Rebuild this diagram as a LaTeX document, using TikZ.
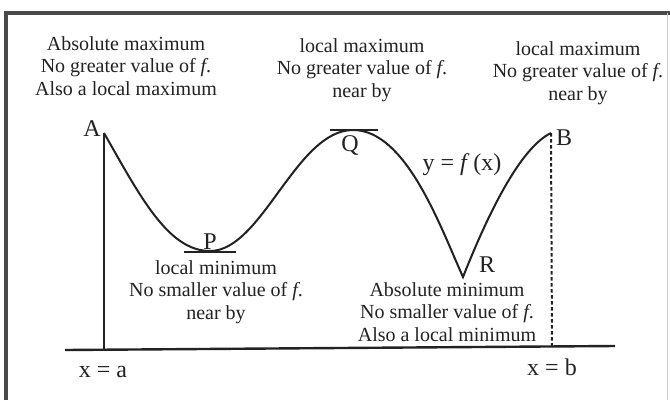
\documentclass[tikz,border=0pt]{standalone}
\usepackage{fontspec}
\setmainfont{Liberation Serif}
\definecolor{ink}{HTML}{222222}
\definecolor{frame}{HTML}{4A4A4A}
\begin{document}
\begin{tikzpicture}[x=1pt,y=-1pt,
  txt/.style={align=center,text=ink,font=\fontsize{20}{22.5}\selectfont,inner sep=0pt},
  bigtxt/.style={text=ink,font=\fontsize{24}{26}\selectfont,inner sep=0pt},
  ptlabel/.style={text=ink,font=\fontsize{24}{26}\selectfont,inner sep=0pt},
  curve/.style={draw=ink,line width=2pt},
  axisline/.style={draw=ink,line width=2.4pt},
  tangent/.style={draw=ink,line width=2.4pt},
  dashline/.style={draw=ink,line width=2pt,dash pattern=on 3.5pt off 2.5pt}]
\useasboundingbox (0,0) rectangle (670,400);
\fill[white] (0,0) rectangle (670,400);
% frame
\draw[frame,line width=3.2pt] (6,400) -- (6,13) -- (670,13);
\draw[gray!40,line width=0.8pt] (667,13) -- (667,400);
% coordinates
\coordinate (A) at (104,133);
\coordinate (P) at (210,251);
\coordinate (Q) at (353,130);
\coordinate (R) at (463,277);
\coordinate (B) at (551,133);
\coordinate (Abase) at (104,350);
\coordinate (Bbase) at (552,346);
\coordinate (axL) at (65,350);
\coordinate (axR) at (615,346);
\coordinate (P1) at (184,252);
\coordinate (P2) at (236,252);
\coordinate (Q1) at (330,130);
\coordinate (Q2) at (378,130);
% axis and verticals
\draw[axisline] (axL) -- (axR);
\draw[axisline] (Abase) -- (A);
\draw[dashline] (B) -- (Bbase);
% curve
\draw[curve] (A) .. controls (140,196) and (168,251) .. (P)
  .. controls (262,251) and (296,130) .. (Q)
  .. controls (406,130) and (440,226) .. (R)
  .. controls (488,214) and (520,148) .. (B);
% tangents
\draw[tangent] (P1) -- (P2);
\draw[tangent] (Q1) -- (Q2);
% point labels
\node[ptlabel] (lA) at (92,129) {A};
\node[ptlabel] (lB) at (564,138) {B};
\node[ptlabel] (lP) at (210,242) {P};
\node[ptlabel] (lQ) at (350,145) {Q};
\node[ptlabel] (lR) at (487,265) {R};
\node[bigtxt] (lf) at (462,165) {y = \textit{f}\,(x)};
% text blocks
\node[txt] (tA) at (126,66) {Absolute maximum\\No greater value of \textit{f}.\\Also a local maximum};
\node[txt] (tQ) at (362,70) {local maximum\\No greater value of \textit{f}.\\near by};
\node[txt] (tB) at (578,73) {local maximum\\No greater value of \textit{f}.\\near by};
\node[txt] (tP) at (216,292) {local minimum\\No smaller value of \textit{f}.\\near by};
\node[txt] (tR) at (447,312) {Absolute minimum\\No smaller value of \textit{f}.\\Also a local minimum};
\node[bigtxt] (xa) at (103,372) {x = a};
\node[bigtxt] (xb) at (552,367) {x = b};
\end{tikzpicture}
\end{document}
